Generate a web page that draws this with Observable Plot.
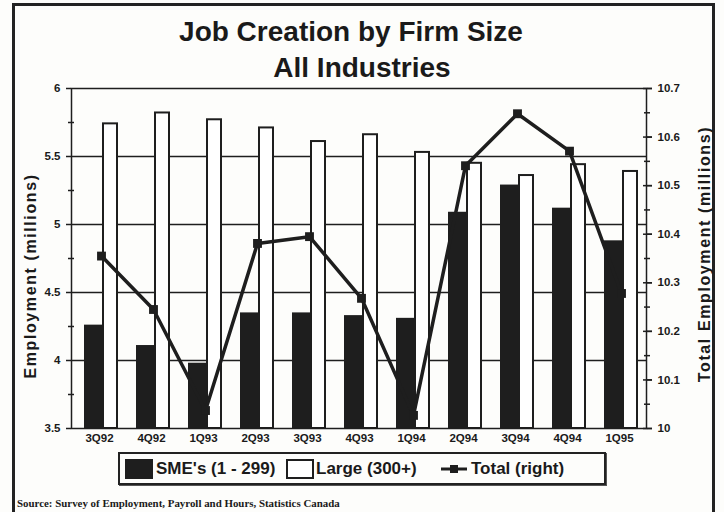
<!DOCTYPE html>
<html><head><meta charset="utf-8">
<script src="https://cdn.jsdelivr.net/npm/d3@7"></script>
<script src="https://cdn.jsdelivr.net/npm/@observablehq/plot@0.6"></script>
<style>
body{margin:0;background:#fff;}
#wrap{position:relative;width:724px;height:512px;background:#fdfdfb;font-family:"Liberation Sans",Arial,sans-serif;color:#1a1a1a;overflow:hidden;}
#frame{position:absolute;left:12px;top:3px;width:703px;height:530px;border:3px solid #222;box-sizing:border-box;}
.title{position:absolute;left:0;width:724px;text-align:center;font-weight:bold;font-size:28px;line-height:32px;}
#chart{position:absolute;left:0;top:78px;}
.ylab{position:absolute;font-weight:bold;font-size:16px;letter-spacing:1.6px;white-space:nowrap;transform:translate(-50%,-50%) rotate(-90deg);}
#legend{position:absolute;left:118px;top:452px;width:488px;height:33px;border:2px solid #222;box-sizing:border-box;box-shadow:1px 1px 0 #555;font-weight:bold;font-size:17px;}
.sw{position:absolute;top:5px;width:28px;height:20px;box-sizing:border-box;border:2px solid #1e1e1e;}
.lt{position:absolute;top:5px;line-height:20px;white-space:nowrap;}
#source{position:absolute;left:17px;top:497px;font-family:"Liberation Serif","Times New Roman",serif;font-weight:bold;font-size:10.9px;white-space:nowrap;}
</style></head>
<body>
<div id="wrap">
  <div id="frame"></div>
  <div class="title" style="top:16px;left:-11px">Job Creation by Firm Size</div>
  <div class="title" style="top:52px">All Industries</div>
  <div id="chart"></div>
  <div class="ylab" style="left:31px;top:276px">Employment (millions)</div>
  <div class="ylab" style="left:705px;top:254px">Total Employment (millions)</div>
  <div id="legend">
    <div class="sw" style="left:5px;background:#1e1e1e"></div>
    <div class="lt" style="left:36px">SME's (1 - 299)</div>
    <div class="sw" style="left:166px;background:#fff"></div>
    <div class="lt" style="left:196px">Large (300+)</div>
    <svg style="position:absolute;left:320px;top:9px" width="28" height="12"><line x1="1" y1="6" x2="27" y2="6" stroke="#1e1e1e" stroke-width="3"/><rect x="10" y="2" width="8" height="8" fill="#1e1e1e"/></svg>
    <div class="lt" style="left:351px">Total (right)</div>
  </div>
  <div id="source">Source: Survey of Employment, Payroll and Hours, Statistics Canada</div>
</div>
<script>
const quarters = ["3Q92","4Q92","1Q93","2Q93","3Q93","4Q93","1Q94","2Q94","3Q94","4Q94","1Q95"];
const sme   = [4.26, 4.11, 3.98, 4.35, 4.35, 4.33, 4.31, 5.09, 5.29, 5.12, 4.88];
const large = [5.74, 5.82, 5.77, 5.71, 5.61, 5.66, 5.53, 5.45, 5.36, 5.44, 5.39];
const total = [10.355, 10.245, 10.037, 10.381, 10.395, 10.268, 10.027, 10.541, 10.648, 10.571, 10.278];
const leftTicks = [3.5, 4, 4.5, 5, 5.5, 6];
const leftMinor = [3.75, 4.25, 4.75, 5.25, 5.75];
const gridTicks = [4, 4.5, 5, 5.5];
const rightTicks = [10, 10.1, 10.2, 10.3, 10.4, 10.5, 10.6, 10.7];
const rightMinor = [10.05, 10.15, 10.25, 10.35, 10.45, 10.55, 10.65];
const leftDomain = [3.5, 6];
const rightDomain = [10, 10.7];

const toLeft = v => leftDomain[0] + (v - rightDomain[0]) / (rightDomain[1] - rightDomain[0]) * (leftDomain[1] - leftDomain[0]);
const toRight = v => rightDomain[0] + (v - leftDomain[0]) / (leftDomain[1] - leftDomain[0]) * (rightDomain[1] - rightDomain[0]);

const data = quarters.map((q, i) => ({q, sme: sme[i], large: large[i], total: total[i]}));
const ink = "#1e1e1e";

const chart = Plot.plot({
  width: 724, height: 370,
  marginTop: 10, marginBottom: 20, marginLeft: 71, marginRight: 78,
  x: {type: "band", domain: quarters, padding: 0, label: null},
  y: {domain: leftDomain, label: null},
  style: {fontFamily: "'Liberation Sans', Arial, sans-serif", fontSize: "11.5px", fontWeight: "bold", color: "#1a1a1a", background: "transparent"},
  marks: [
    Plot.gridY(gridTicks, {stroke: ink, strokeOpacity: 1, strokeWidth: 1.3}),
    Plot.barY(data, {x: "q", y1: leftDomain[0], y2: "sme", fill: ink, insetLeft: 11, insetRight: 23}),
    Plot.barY(data, {x: "q", y1: leftDomain[0], y2: "large", fill: "#fff", stroke: ink, strokeWidth: 2, insetLeft: 30, insetRight: 8}),
    Plot.frame({stroke: ink, strokeWidth: 1.5}),
    Plot.line(data, {x: "q", y: d => toLeft(d.total), stroke: ink, strokeWidth: 3.5, dx: 2}),
    Plot.dot(data, {x: "q", y: d => toLeft(d.total), symbol: "square", r: 5, fill: ink, stroke: "none", dx: 2}),
    Plot.axisY(leftTicks, {anchor: "left", tickSize: 5, tickPadding: 6, tickFormat: d => String(d), label: null, stroke: ink, strokeWidth: 1.5}),
    Plot.axisY(leftMinor, {anchor: "left", tickSize: 6, insetLeft: 3, tickFormat: () => "", label: null, stroke: ink, strokeWidth: 1.5}),
    Plot.axisY(rightTicks.map(toLeft), {anchor: "right", tickSize: 5, tickPadding: 6, tickFormat: d => String(+toRight(d).toFixed(1)), label: null, stroke: ink, strokeWidth: 1.5}),
    Plot.axisY(rightTicks.map(toLeft), {anchor: "right", tickSize: 9, insetRight: 4, tickFormat: () => "", label: null, stroke: ink, strokeWidth: 1.5}),
    Plot.axisY(rightMinor.map(toLeft), {anchor: "right", tickSize: 6, insetRight: 3, tickFormat: () => "", label: null, stroke: ink, strokeWidth: 1.5}),
    Plot.axisX({tickSize: 0, tickPadding: 5, label: null})
  ]
});
document.getElementById("chart").appendChild(chart);
</script>
</body></html>
